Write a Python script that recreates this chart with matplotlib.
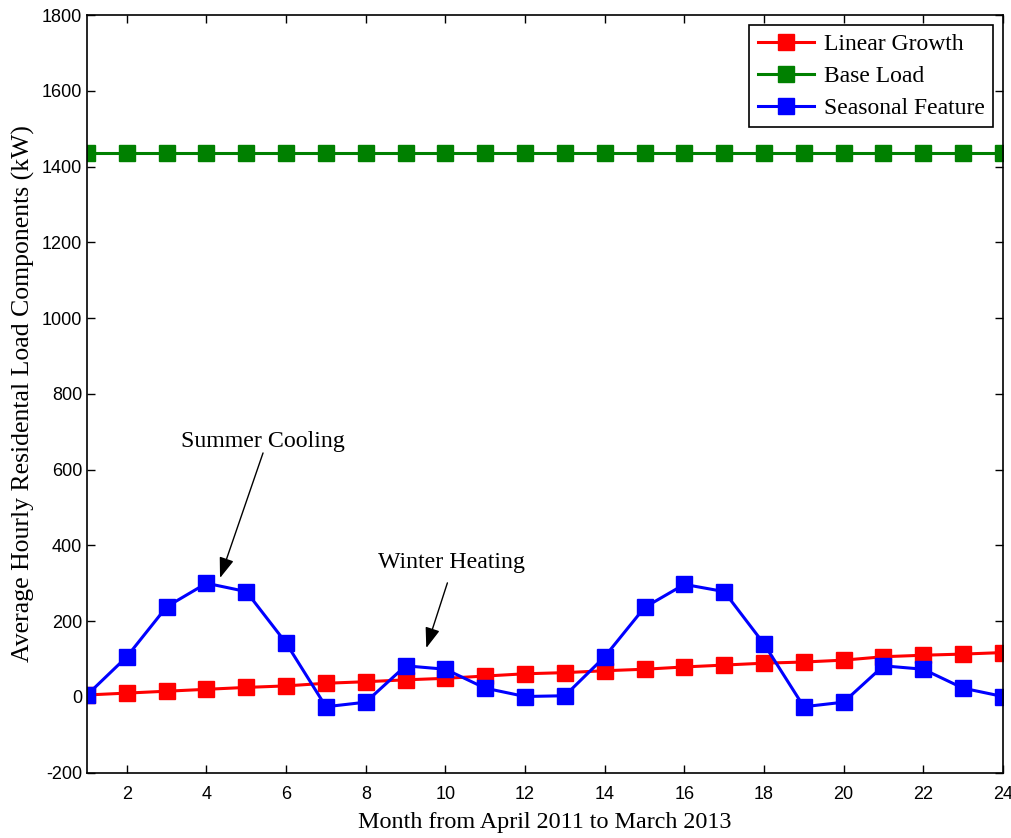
import numpy as np
import matplotlib
matplotlib.use("Agg")
import matplotlib.pyplot as plt

plt.rcParams["axes.unicode_minus"] = False

months = np.arange(1, 25)
linear_growth = [5, 10, 15, 20, 25, 29, 36, 40, 45, 49, 55, 61,
                 64, 69, 73, 79, 84, 89, 92, 97, 106, 110, 113, 117]
base_load = [1437] * 24
seasonal = [5, 106, 238, 300, 278, 142, -26, -14, 82, 73, 23, 1,
            3, 106, 236, 297, 278, 140, -26, -14, 82, 73, 23, 1]

serif = ["Liberation Serif", "DejaVu Serif"]
sans = ["Liberation Sans", "DejaVu Sans"]

fig = plt.figure(figsize=(10.12, 8.38), dpi=100)
ax = fig.add_axes([0.086, 0.078, 0.905, 0.904])

style = dict(marker="s", markersize=11, linewidth=2.2)
ax.plot(months, linear_growth, color=(1, 0, 0), label="Linear Growth", **style)
ax.plot(months, base_load, color=(0, 0.5, 0), label="Base Load", **style)
ax.plot(months, seasonal, color=(0, 0, 1), label="Seasonal Feature", **style)

ax.set_xlim(1, 24)
ax.set_ylim(-200, 1800)
ax.set_xticks(np.arange(2, 25, 2))
ax.set_yticks(np.arange(-200, 1801, 200))
ax.tick_params(direction="in", top=True, right=True, length=6, width=1,
               labelsize=13)
ax.tick_params(axis="x", pad=9.5)
for lab in ax.get_xticklabels() + ax.get_yticklabels():
    lab.set_family(sans)
for s in ax.spines.values():
    s.set_linewidth(1.2)

ax.set_xlabel("Month from April 2011 to March 2013", family=serif, fontsize=17.4,
              labelpad=6.5)
ax.set_ylabel("Average Hourly Residental Load Components (kW)", family=serif,
              fontsize=18.5, labelpad=5)

arrow = dict(arrowstyle="-|>,head_length=1.25,head_width=0.45", color="black",
             linewidth=1, shrinkA=0, shrinkB=0)
ax.annotate("", xy=(4.34, 314), xytext=(5.42, 644), arrowprops=arrow)
ax.text(5.43, 675, "Summer Cooling", family=serif, fontsize=17.2,
        ha="center", va="center")
ax.annotate("", xy=(9.52, 129), xytext=(10.05, 301), arrowprops=arrow)
ax.text(10.15, 354, "Winter Heating", family=serif, fontsize=17.2,
        ha="center", va="center")

leg = ax.legend(loc="upper right", prop={"family": serif, "size": 17},
                fancybox=False, edgecolor="black", framealpha=1,
                borderaxespad=0.42, handlelength=2.4, labelspacing=0.45,
                borderpad=0.35, handletextpad=0.4)
leg.get_frame().set_linewidth(1.2)

fig.savefig("out.png", dpi=100)
